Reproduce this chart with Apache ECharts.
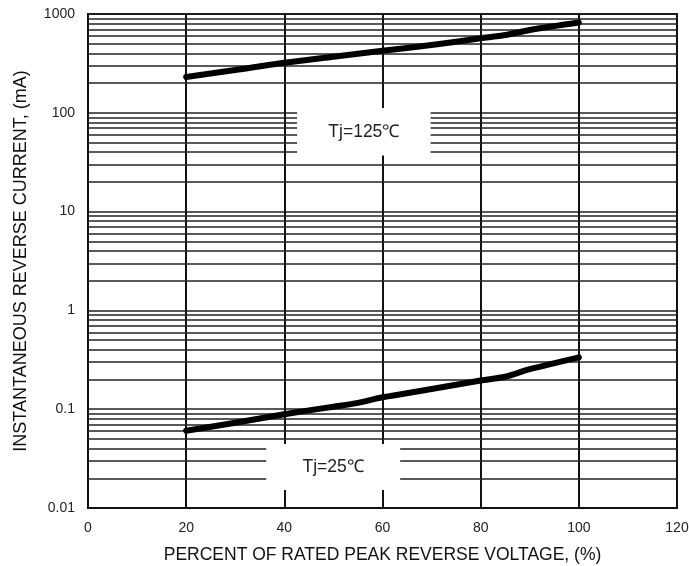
<!DOCTYPE html>
<html><head><meta charset="utf-8">
<script src="https://cdn.jsdelivr.net/npm/echarts@6/dist/echarts.min.js"></script>
<style>html,body{margin:0;padding:0;background:#fff}#c{width:689px;height:566px}</style>
</head><body><div id="c"></div>
<script>
// Data
const xHot = [20, 30, 40, 50, 60, 70, 80, 85, 90, 100];
const yHot = [230, 271, 321, 370, 425, 485, 567, 612, 689, 820];
const xCold = [20, 30, 40, 50, 55, 60, 70, 80, 85, 90, 100];
const yCold = [0.0606, 0.073, 0.089, 0.106, 0.116, 0.132, 0.16, 0.195, 0.213, 0.254, 0.335];
const xTicks = [0, 20, 40, 60, 80, 100, 120];
const yTickLabels = {"0.01": "0.01", "0.1": "0.1", "1": "1", "10": "10", "100": "100", "1000": "1000"};
const decades = [0.01, 0.1, 1, 10, 100];
const minorMultipliers = [2, 3, 4, 5, 6, 7, 8, 9];
const labelHot = "Tj=125℃";
const labelCold = "Tj=25℃";
// label boxes in data coordinates: [xFrom, yFrom, xTo, yTo]
const boxHot = [42.6, 37, 69.8, 112];
const boxCold = [36.3, 0.0152, 63.6, 0.0445];

const minorLines = [];
decades.forEach(d => minorMultipliers.forEach(m => minorLines.push({yAxis: +(d * m).toPrecision(3)})));

const chart = echarts.init(document.getElementById('c'), null, {renderer: 'canvas'});
const FONT = '"Liberation Sans", Arial, sans-serif';
function box(b, text) {
  return [{xAxis: b[0], yAxis: b[1], name: text}, {xAxis: b[2], yAxis: b[3]}];
}
chart.setOption({
  animation: false,
  grid: {left: 88, right: 12, top: 14, bottom: 58, outerBoundsMode: 'none', containLabel: false,
    show: true, borderColor: '#111', borderWidth: 2, backgroundColor: 'transparent'},
  xAxis: {
    type: 'value', min: 0, max: 120, interval: 20,
    axisLine: {show: true, lineStyle: {color: '#111', width: 2}},
    axisTick: {show: false},
    axisLabel: {color: '#222', fontFamily: FONT, fontSize: 14, margin: 13},
    splitLine: {show: true, lineStyle: {color: '#111', width: 2}},
    name: 'PERCENT OF RATED PEAK REVERSE VOLTAGE, (%)', nameLocation: 'middle', nameGap: 38,
    nameTextStyle: {color: '#111', fontFamily: FONT, fontSize: 17.5}
  },
  yAxis: {
    type: 'log', logBase: 10, min: 0.01, max: 1000,
    axisLine: {show: true, lineStyle: {color: '#111', width: 2}},
    axisTick: {show: false},
    axisLabel: {color: '#222', fontFamily: FONT, fontSize: 14, margin: 13,
      formatter: v => yTickLabels[String(+v.toPrecision(3))] || ''},
    splitLine: {show: true, lineStyle: {color: '#222', width: 1.5}},
    name: 'INSTANTANEOUS REVERSE CURRENT, (mA)', nameLocation: 'middle', nameGap: 58,
    nameTextStyle: {color: '#111', fontFamily: FONT, fontSize: 18}
  },
  series: [
    {
      type: 'line', data: [], z: 2, silent: true,
      markLine: {silent: true, z: 2, symbol: ['none', 'none'], label: {show: false},
        lineStyle: {color: '#222', width: 1.5, type: 'solid'}, data: minorLines}
    },
    {
      type: 'line', data: [], z: 3, silent: true,
      markArea: {silent: true, z: 3, itemStyle: {color: '#fff', opacity: 1},
        label: {show: true, position: 'inside', color: '#222', fontFamily: FONT, fontSize: 17.5},
        data: [box(boxHot, labelHot), box(boxCold, labelCold)]}
    },
    {
      type: 'line', z: 5, data: xHot.map((x, i) => [x, yHot[i]]), smooth: 0.3, showSymbol: false,
      lineStyle: {color: '#000', width: 6, cap: 'round', join: 'round'}
    },
    {
      type: 'line', z: 5, data: xCold.map((x, i) => [x, yCold[i]]), smooth: 0.3, showSymbol: false,
      lineStyle: {color: '#000', width: 6, cap: 'round', join: 'round'}
    }
  ]
});
</script></body></html>
